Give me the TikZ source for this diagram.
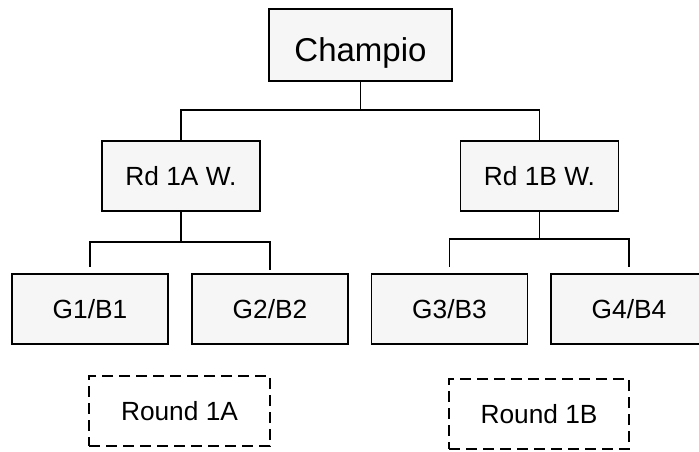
\documentclass[tikz,border=0pt]{standalone}
\usepackage{fontspec}
\setmainfont{Liberation Sans}
\begin{document}
\begin{tikzpicture}[x=1pt,y=-1pt,line width=1.6pt,
  teambox/.style={draw, fill=gray!7, inner sep=0pt, minimum width=156pt, minimum height=70pt,
    font=\fontsize{26.3}{30}\selectfont},
  roundbox/.style={draw, dash pattern=on 11pt off 6pt, inner sep=0pt, minimum width=181pt,
    minimum height=70pt, font=\fontsize{26.3}{30}\selectfont}]
\useasboundingbox (0,0) rectangle (699,452);
\clip (0,0) rectangle (699,452);

\node[teambox, minimum width=183pt, minimum height=72pt, text height=34pt, text depth=0pt,
  font=\fontsize{33}{38}\selectfont] (champ) at (360.5,45) {Champio};

\node[teambox, minimum width=158pt] (r1a) at (181,176) {Rd 1A W.};
\node[teambox, minimum width=158pt] (r1b) at (539.5,176) {Rd 1B W.};

\node[teambox] (g1) at (90,309) {G1/B1};
\node[teambox] (g2) at (270,309) {G2/B2};
\node[teambox] (g3) at (449.5,309) {G3/B3};
\node[teambox] (g4) at (629,309) {G4/B4};

\node[roundbox] (ra) at (179.5,411) {Round 1A};
\node[roundbox, minimum width=180pt] (rb) at (539,414) {Round 1B};

\coordinate (jc) at (360.5,110);
\path[draw,-] (champ.south) -- (jc);
\path[draw,-] (jc) -| (r1a.north);
\path[draw,-] (jc) -| (r1b.north);

\coordinate (ja) at (181,242);
\path[draw,-] (r1a.south) -- (ja);
\path[draw,-,shorten >=6pt] (ja) -| (g1.north);
\path[draw,-,shorten >=3pt] (ja) -| (g2.north);

\coordinate (jb) at (539.5,239);
\path[draw,-] (r1b.south) -- (jb);
\path[draw,-,shorten >=6pt] (jb) -| (g3.north);
\path[draw,-,shorten >=6pt] (jb) -| (g4.north);
\end{tikzpicture}
\end{document}
